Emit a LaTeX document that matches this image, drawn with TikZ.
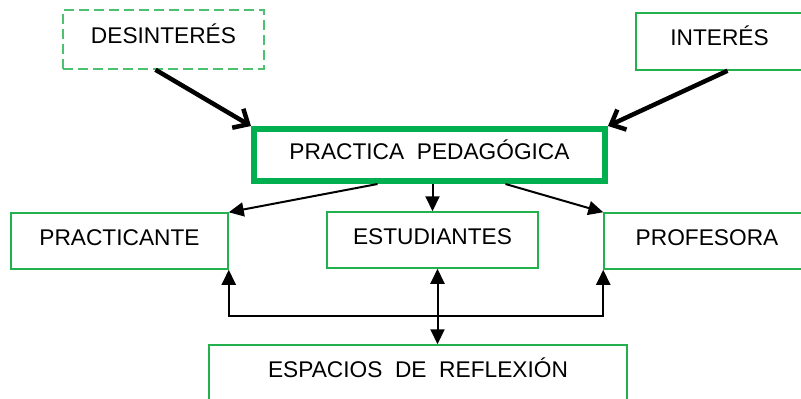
\documentclass[tikz,border=0pt]{standalone}
\usepackage{fontspec}
\setmainfont{Liberation Sans}
\usetikzlibrary{arrows.meta}
\definecolor{verde}{RGB}{34,177,76}
\definecolor{verdeosc}{RGB}{0,176,80}
\newcommand{\caja}[5]{\node[cajabox, minimum width=#3pt, minimum height=#4pt] (#1) at (#2) {#5};}
\tikzset{
  cajabox/.style={draw=verde, line width=0.75pt, inner sep=0pt, text height=0.72em, text depth=0.3em},
  gruesa/.style={line width=2.25pt, -{Straight Barb[length=6pt, width=11pt]}},
  punta/.style={-{Triangle[length=7.5pt, width=7pt]}},
  fina/.style={line width=1pt, punta},
  ambas/.style={line width=1pt, {Triangle[length=7.5pt, width=7pt]}-{Triangle[length=7.5pt, width=7pt]}}
}

\begin{document}
\begin{tikzpicture}[x=0.5pt, y=-0.5pt, font=\fontsize{11.35}{13.6}\selectfont]
        \useasboundingbox (0,0) rectangle (801,398);
        \node[cajabox, draw=verde!80, dash pattern=on 5pt off 2.5pt, minimum width=100.5pt, minimum height=29.5pt] (desint) at (163.5,39.5) {DESINTERÉS};
        \caja{interes}{719.5,41.5}{83.5}{28.5}{INTERÉS}
        \caja{practicante}{119.5,241}{108.5}{28}{PRACTICANTE}
        \caja{estud}{432.5,240}{105.5}{28}{ESTUDIANTES}
        \caja{profe}{707,241}{103}{28}{PROFESORA}
        \caja{espacios}{418,373}{209}{28}{ESPACIOS~ DE~ REFLEXIÓN}
        \node[cajabox, draw=verdeosc, line width=3pt, minimum width=175.5pt, minimum height=26pt] (prac) at (429.5,155) {PRACTICA~~PEDAGÓGICA};
        % flechas gruesas
        \draw[gruesa] ([xshift=-4pt]desint.south) -- (prac.north west);
        \draw[gruesa] ([xshift=4pt]interes.south) -- (prac.north east);
        \draw[fina] ([xshift=-26pt]prac.south) -- (practicante.north east);
        \draw[fina] (prac.south -| estud.north) -- (estud.north);
        \draw[fina] ([xshift=38pt]prac.south) -- (profe.north west);
        \coordinate (bus) at (0,316);
        \draw[ambas] (practicante.south east) |- (profe.south west |- bus) -- (profe.south west);
        \draw[ambas] ([xshift=2.5pt]estud.south) -- ([xshift=2.5pt]estud.south |- espacios.north);
    \end{tikzpicture}
\end{document}
